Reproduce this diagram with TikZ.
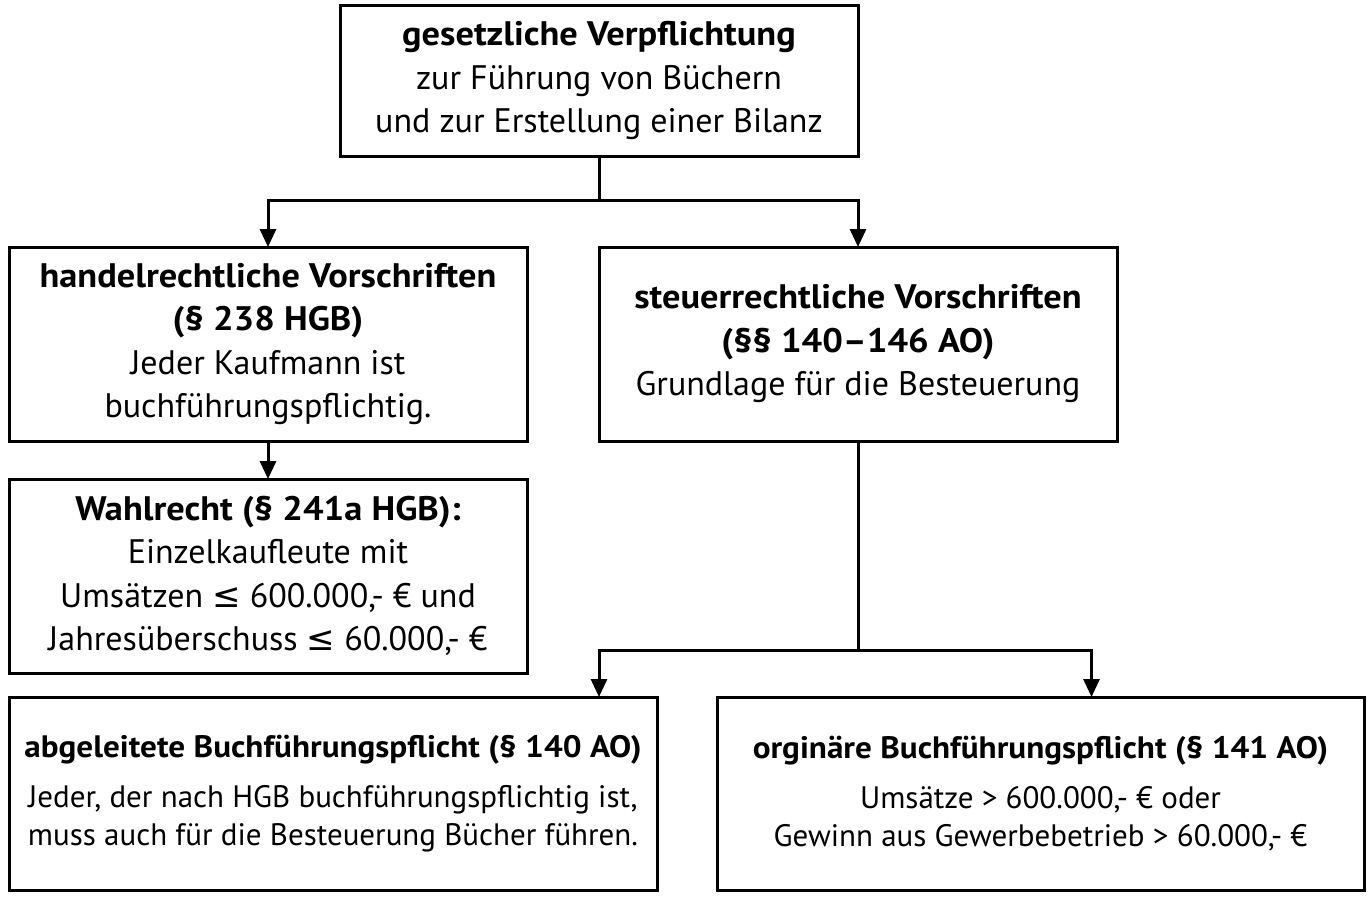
\documentclass[tikz,border=0pt]{standalone}
\usepackage{fontspec}
\setmainfont{PT Sans}[BoldFeatures={FakeStretch=1.07}]
\newfontfamily\symbolschrift{DejaVu Sans}
\newcommand{\kleinergleich}{{\symbolschrift\char"2264}}
\usepackage{tikz}
\usetikzlibrary{calc, positioning}
\usetikzlibrary{arrows.meta}

\begin{document}
\begin{tikzpicture}[>={Triangle[width=8pt,length=9pt]},line width=1.5pt]
    \tikzstyle{every node}=[font=\fontsize{17}{21.75}\selectfont]
    \tikzstyle{kasten}=[draw,align=center,inner sep=0pt,outer sep=0pt,minimum width=259pt,minimum height=97pt]
    \tikzstyle{kastenklein}=[kasten,font=\fontsize{15.5}{19}\selectfont,minimum width=324pt,minimum height=96.5pt]
    \useasboundingbox (0,0) rectangle (684pt,-448pt);
      \node[kasten,anchor=north west] at (4.5pt,-123.5pt) (handel)
        {\textbf{handelrechtliche Vorschriften}\\\textbf{(§ 238 HGB)}\\Jeder Kaufmann ist\\buchführungspflichtig.};
      \node[kasten,right = 36pt of handel] (steuer)
        {\textbf{steuerrechtliche Vorschriften}\\\textbf{(§§ 140–146 AO)}\\Grundlage für die Besteuerung};
      \node[kasten,minimum height=75.5pt,above = 45.5pt of steuer.north west] (top)
        {\textbf{gesetzliche Verpflichtung}\\zur Führung von Büchern\\und zur Erstellung einer Bilanz};
      \node[kasten,below = 19pt of handel] (wahl)
        {\textbf{Wahlrecht (§ 241a HGB):}\\Einzelkaufleute mit\\Umsätzen \kleinergleich{} 600.000,- € und\\Jahresüberschuss \kleinergleich{} 60.000,- €};
      \node[kastenklein,below = 12pt of wahl.south west,anchor=north west] (abgel)
        {\textbf{abgeleitete Buchführungspflicht (§ 140 AO)}\\[6pt]Jeder, der nach HGB buchführungspflichtig ist,\\muss auch für die Besteuerung Bücher führen.};
      \node[kastenklein,minimum width=323.5pt,right = 30pt of abgel] (orig)
        {\textbf{orginäre Buchführungspflicht (§ 141 AO)}\\[6pt]Umsätze > 600.000,- € oder\\Gewinn aus Gewerbebetrieb > 60.000,- €};

      \coordinate (gabel) at ($(top.south)+(0,-22pt)$);
      \coordinate (gabelunten) at ($(steuer.south)+(0,-104.5pt)$);
      \draw (top.south) -- (gabel);
      \draw[->] (gabel) -| (handel.north);
      \draw[->] (gabel) -| (steuer.north);
      \draw[->] (handel.south) -- (wahl.north);
      \draw (steuer.south) -- (gabelunten);
      \draw[->] (gabelunten) -| (abgel.north -| steuer.west);
      \draw[->] (gabelunten) -| ($(orig.north)+(25.5pt,0)$);
    \end{tikzpicture}
\end{document}
